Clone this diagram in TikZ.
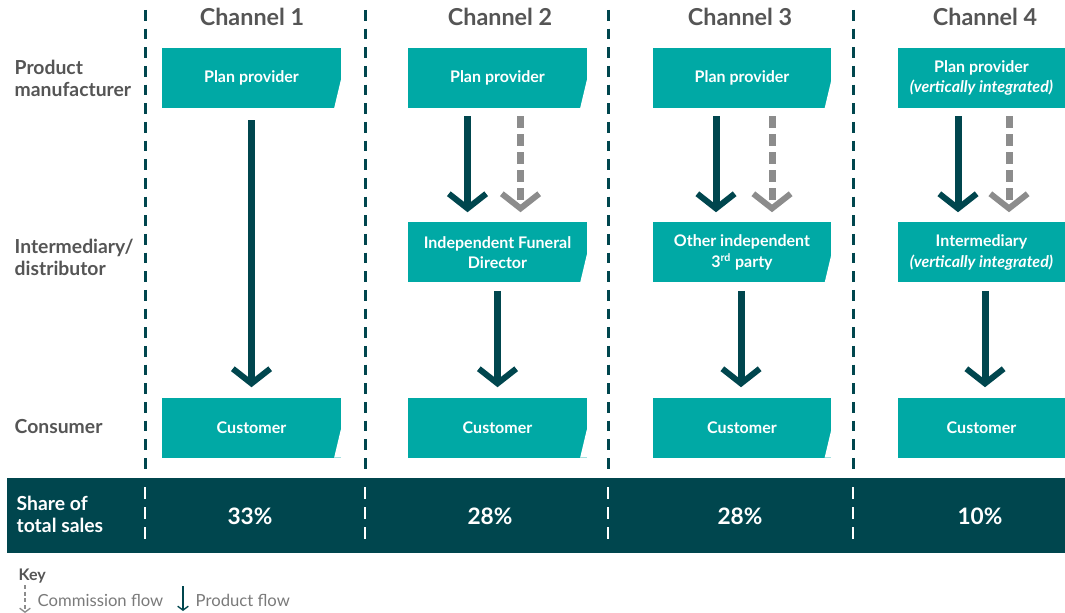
\documentclass[tikz,border=0pt]{standalone}
\usepackage{fontspec}
\setmainfont{Lato}
\usetikzlibrary{arrows.meta,calc}
\definecolor{boxteal}{HTML}{00A9A5}
\definecolor{darkteal}{HTML}{00464E}
\definecolor{flowgrey}{HTML}{8C8C8C}
\definecolor{labelgrey}{HTML}{555555}
\definecolor{keygrey}{HTML}{7A7A7A}

\begin{document}
\begin{tikzpicture}[
    x=0.75pt, y=-0.75pt,
    cardbase/.style={fill=boxteal, text=white, align=center, inner sep=0pt,
        font=\bfseries\fontsize{12}{15.5}\selectfont,
        minimum width=134pt, minimum height=45pt},
    card/.style={cardbase, path picture={
        \fill[white] ([yshift=21pt]path picture bounding box.south east)
            -- (path picture bounding box.south east)
            -- ([xshift=-5pt]path picture bounding box.south east) -- cycle;}},
    cardcut/.style={cardbase, minimum width=125.25pt},
    header/.style={text=labelgrey, font=\bfseries\fontsize{17.5}{20}\selectfont},
    rowlabel/.style={anchor=west, align=left, text=labelgrey,
        font=\bfseries\fontsize{14.5}{16.5}\selectfont},
    share/.style={text=white, font=\bfseries\fontsize{17}{20}\selectfont},
    divider/.style={draw=darkteal, line width=2.25pt, dash pattern=on 8pt off 6pt},
    bandline/.style={draw=white, line width=1.5pt, dash pattern=on 9pt off 6pt},
    prodflow/.style={draw=darkteal, line width=5.25pt,
        -{Straight Barb[length=11pt, width=28pt, line width=4.5pt]},
        shorten <=6pt, shorten >=7.5pt},
    commflow/.style={prodflow, draw=flowgrey, dash pattern=on 9pt off 4.5pt},
    keytext/.style={anchor=west, text=keygrey, font=\fontsize{12.5}{14}\selectfont}
]
    \useasboundingbox (0,0) rectangle (1065,613);

    % Column dividers and headers.
    \foreach \dx in {145,365,608,853}
        \draw[divider] (\dx,10) -- (\dx,470);
    \node[header] (h1) at (252,17) {Channel 1};
    \node[header] (h2) at (500,17) {Channel 2};
    \node[header] (h3) at (740,17) {Channel 3};
    \node[header] (h4) at (985,17) {Channel 4};

    % Row labels.
    \node[rowlabel] (rprod) at (10,78) {Product\\manufacturer};
    \node[rowlabel] (rint) at (10,257) {Intermediary/\\distributor};
    \node[rowlabel] (rcons) at (10,427) {Consumer};

    % Channel boxes.
    \node[card] (pp1) at (251.5,78) {Plan provider};
    \node[card] (cu1) at (251.5,427.5) {Customer};

    \node[card] (pp2) at (497.5,78) {Plan provider};
    \node[card] (id2) at (497.5,252.5) {Independent Funeral\\Director};
    \node[card] (cu2) at (497.5,427.5) {Customer};

    \node[card] (pp3) at (742,78) {Plan provider};
    \node[card] (id3) at (742,252.5) {Other independent\\3\textsuperscript{rd} party};
    \node[card] (cu3) at (742,427.5) {Customer};

    \node[cardcut] (pp4) at (981.5,78) {Plan provider\\\textit{(vertically integrated)}};
    \node[cardcut] (id4) at (981.5,252.5) {Intermediary\\\textit{(vertically integrated)}};
    \node[cardcut] (cu4) at (981.5,427.5) {Customer};

    % Flows.
    \draw[prodflow, shorten <=9pt] (pp1) -- (cu1);

    \draw[prodflow] ($(pp2.south)+(-30,0)$) -- ($(id2.north)+(-30,0)$);
    \draw[commflow] ($(pp2.south)+(23,0)$) -- ($(id2.north)+(23,0)$);
    \draw[prodflow] (id2) -- (cu2);

    \draw[prodflow] ($(pp3.south)+(-26,0)$) -- ($(id3.north)+(-26,0)$);
    \draw[commflow] ($(pp3.south)+(30,0)$) -- ($(id3.north)+(30,0)$);
    \draw[prodflow] ($(id3.south)+(-1,0)$) -- ($(cu3.north)+(-1,0)$);

    \draw[prodflow] ($(pp4.south)+(-23.5,0)$) -- ($(id4.north)+(-23.5,0)$);
    \draw[commflow] ($(pp4.south)+(27.5,0)$) -- ($(id4.north)+(27.5,0)$);
    \draw[prodflow] ($(id4.south)+(3.5,0)$) -- ($(cu4.north)+(3.5,0)$);

    % Share of total sales band.
    \fill[darkteal] (7,478) rectangle (1065,553);
    \foreach \dx in {145,365,608,853}
        \draw[bandline] (\dx,487) -- (\dx,545);
    \node[rowlabel, text=white] (rshare) at (12,514) {Share of\\total sales};
    \node[share] (s1) at (250,516) {33\%};
    \node[share] (s2) at (490,516) {28\%};
    \node[share] (s3) at (740,516) {28\%};
    \node[share] (s4) at (980,516) {10\%};

    % Key.
    \node[keytext, text=labelgrey, font=\bfseries\fontsize{12}{14}\selectfont] (key) at (14,576) {Key};
    \coordinate (kc1) at (25,585);
    \coordinate (kc2) at (25,613);
    \coordinate (kp1) at (183,586);
    \coordinate (kp2) at (183,611);
    \draw[flowgrey, line width=1.5pt, dash pattern=on 3pt off 2pt,
        -{Straight Barb[length=3pt, width=8pt, line width=1pt]}] (kc1) -- (kc2);
    \draw[darkteal, line width=1.2pt,
        -{Straight Barb[length=3pt, width=8pt, line width=1pt]}] (kp1) -- (kp2);
    \node[keytext] (kcomm) at (33,600) {Commission flow};
    \node[keytext] (kprod) at (191,600) {Product flow};
\end{tikzpicture}
\end{document}
